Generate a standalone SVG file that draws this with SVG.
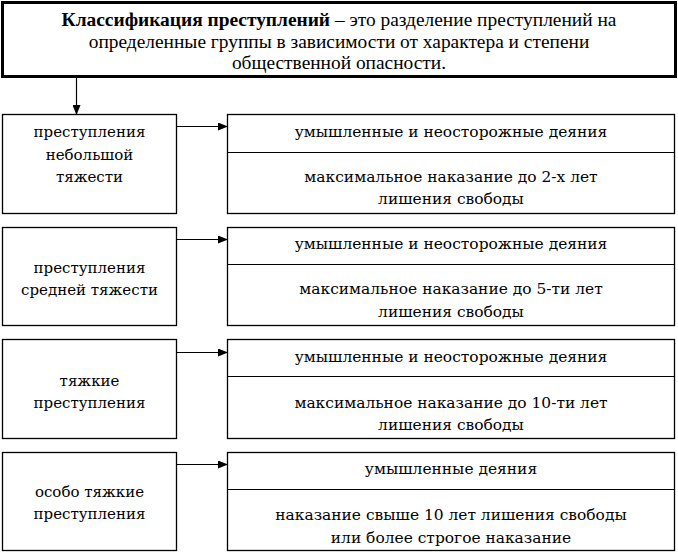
<svg xmlns="http://www.w3.org/2000/svg" width="678" height="552" viewBox="0 0 678 552">
<defs>
<style>
text{font-family:"DejaVu Serif",serif;font-size:15px;fill:#000;text-anchor:middle}
.r{font-size:15.45px}
.top{font-family:"Liberation Serif","Times New Roman",serif;font-size:19.4px}
.b{fill:#fff;stroke:#000;stroke-width:1.3}
.c{stroke:#000;stroke-width:1.2;fill:none}
</style>
<marker id="ah" markerWidth="10" markerHeight="8" refX="9" refY="4" orient="auto" markerUnits="userSpaceOnUse"><path d="M0,0 L10,4 L0,8 Z" fill="#000"/></marker>
</defs>
<rect width="678" height="552" fill="#fff"/>
<g id="definition">
<rect x="2.5" y="2.5" width="673" height="74" fill="#fff" stroke="#000" stroke-width="3"/>
<text class="top" x="339" y="26"><tspan font-weight="bold">Классификация преступлений</tspan> – это разделение преступлений на</text>
<text class="top" x="339" y="48">определенные группы в зависимости от характера и степени</text>
<text class="top" x="339" y="69">общественной опасности.</text>
</g>
<g id="left1"><rect class="b" x="2.5" y="114.5" width="174" height="99"/>
<text x="89.5" y="137">преступления</text><text x="89.5" y="160">небольшой</text><text x="89.5" y="182">тяжести</text></g>
<g id="right1"><rect class="b" x="227.5" y="114.5" width="447" height="99"/><line class="c" x1="227.5" y1="152.5" x2="674.5" y2="152.5"/>
<text class="r" x="451" y="137">умышленные и неосторожные деяния</text><text class="r" x="451" y="182">максимальное наказание до 2-х лет</text><text class="r" x="451" y="204">лишения свободы</text></g>
<g id="left2"><rect class="b" x="2.5" y="227.5" width="174" height="98"/>
<text x="89.5" y="273">преступления</text><text x="89.5" y="295">средней тяжести</text></g>
<g id="right2"><rect class="b" x="227.5" y="227.5" width="447" height="98"/><line class="c" x1="227.5" y1="264.5" x2="674.5" y2="264.5"/>
<text class="r" x="451" y="249">умышленные и неосторожные деяния</text><text class="r" x="451" y="294">максимальное наказание до 5-ти лет</text><text class="r" x="451" y="317">лишения свободы</text></g>
<g id="left3"><rect class="b" x="2.5" y="339.5" width="174" height="99"/>
<text x="89.5" y="386">тяжкие</text><text x="89.5" y="408">преступления</text></g>
<g id="right3"><rect class="b" x="227.5" y="339.5" width="447" height="99"/><line class="c" x1="227.5" y1="376.5" x2="674.5" y2="376.5"/>
<text class="r" x="451" y="362">умышленные и неосторожные деяния</text><text class="r" x="451" y="408">максимальное наказание до 10-ти лет</text><text class="r" x="451" y="430">лишения свободы</text></g>
<g id="left4"><rect class="b" x="2.5" y="452.5" width="174" height="98"/>
<text x="89.5" y="497">особо тяжкие</text><text x="89.5" y="519">преступления</text></g>
<g id="right4"><rect class="b" x="227.5" y="452.5" width="447" height="98"/><line class="c" x1="227.5" y1="489.5" x2="674.5" y2="489.5"/>
<text class="r" x="451" y="474">умышленные деяния</text><text class="r" x="451" y="520">наказание свыше 10 лет лишения свободы</text><text class="r" x="451" y="543">или более строгое наказание</text></g>
<g id="connectors">
<line class="c" x1="76.5" y1="78" x2="76.5" y2="114" marker-end="url(#ah)"/>
<line class="c" x1="177" y1="126.5" x2="227" y2="126.5" marker-end="url(#ah)"/>
<line class="c" x1="177" y1="239.5" x2="227" y2="239.5" marker-end="url(#ah)"/>
<line class="c" x1="177" y1="352.5" x2="227" y2="352.5" marker-end="url(#ah)"/>
<line class="c" x1="177" y1="464.5" x2="227" y2="464.5" marker-end="url(#ah)"/>
</g>
</svg>
